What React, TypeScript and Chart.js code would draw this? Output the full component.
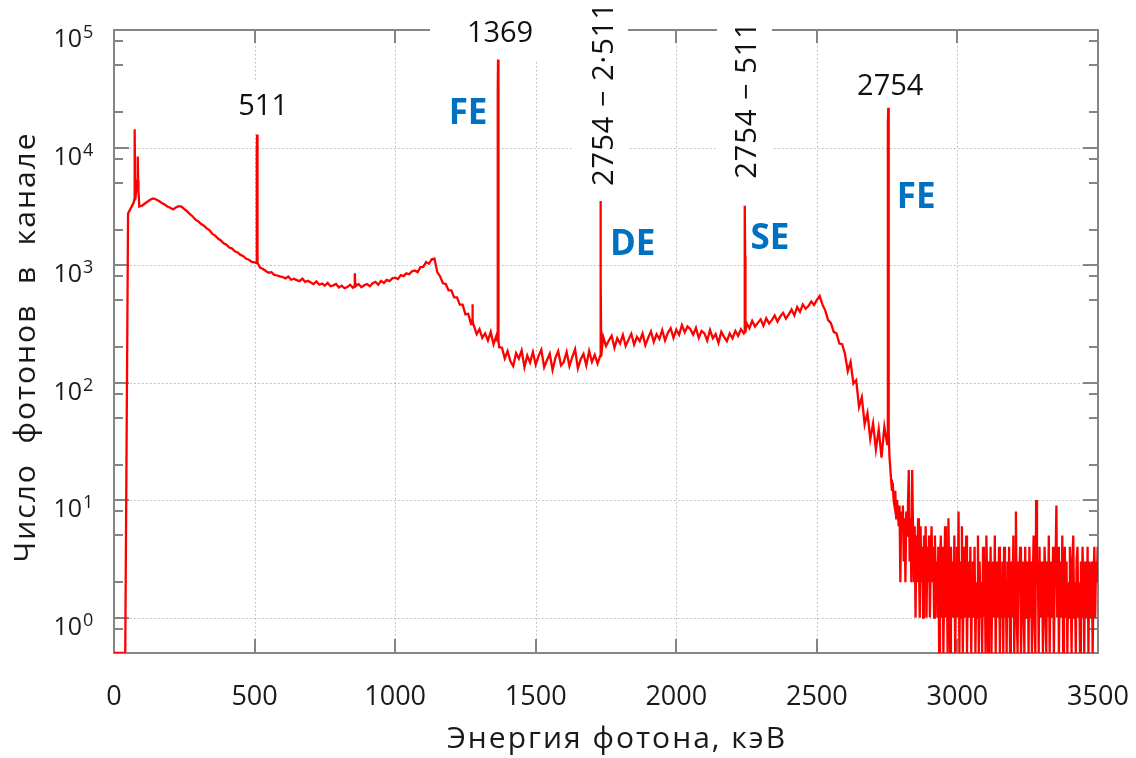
import React, { useEffect, useRef } from "react";
import { Chart, registerables } from "chart.js";

Chart.register(...registerables);

const FONT = "'Open Sans', 'DejaVu Sans', sans-serif";

// ---- Data ----
// Continuum (counts per channel) from 0 keV, 10 keV step
const contStart = 0;
const contStep = 10;
const continuum = [
  0, 0, 0, 0, 0, 2750, 3050, 3400, 4700, 3150,
  3200, 3340, 3470, 3610, 3690, 3610, 3510, 3370, 3270, 3150,
  3070, 2970, 3090, 3170, 3140, 2990, 2870, 2710, 2590, 2430,
  2350, 2230, 2160, 2050, 1970, 1840, 1780, 1680, 1620, 1530,
  1490, 1410, 1380, 1310, 1280, 1220, 1190, 1130, 1110, 1065,
  1055, 1035, 950, 925, 890, 860, 870, 825, 815, 800,
  790, 770, 800, 750, 765, 745, 730, 765, 720, 735,
  712, 690, 725, 680, 695, 670, 705, 660, 672, 690,
  645, 668, 635, 650, 680, 640, 660, 690, 648, 672,
  690, 660, 700, 720, 680, 735, 705, 748, 730, 770,
  780, 760, 820, 805, 850, 835, 885, 900, 870, 960,
  965, 1060, 1025, 1120, 1135, 870, 800, 700, 690, 610,
  610, 530, 530, 460, 460, 380, 385, 315, 320, 258,
  285, 240, 262, 228, 270, 212, 250, 200, 198, 160,
  185, 152, 138, 178, 160, 188, 135, 170, 148, 182,
  142, 168, 190, 135, 155, 176, 128, 162, 185, 140,
  150, 182, 138, 165, 192, 132, 158, 175, 140, 186,
  150, 172, 145, 160, 245, 205, 228, 250, 198, 238,
  215, 255, 205, 232, 260, 210, 245, 225, 262, 208,
  240, 272, 222, 258, 235, 280, 228, 265, 290, 240,
  282, 255, 308, 268, 300, 285, 255, 292, 240, 275,
  262, 228, 280, 238, 258, 218, 270, 245, 225, 262,
  238, 275, 250, 285, 262, 320, 290, 335, 300, 322,
  345, 305, 352, 318, 340, 372, 330, 365, 392, 350,
  380, 418, 372, 440, 400, 462, 425, 448, 490, 458,
  505, 545, 460, 410, 340, 320, 270, 262, 215, 212,
  175, 125, 150, 98, 105, 62, 75, 44, 55, 33,
  45, 27, 40, 23, 42, 30,
];

// High-energy tail (counts per channel) from 2758 keV, 3 keV step
const tailStart = 2758;
const tailStep = 3;
const tail = [
  24, 19, 15, 12, 14, 10, 9, 12, 7, 10, 8, 6, 9, 2, 8,
  6, 9, 3, 7, 2, 8, 5, 9, 18, 3, 7, 2, 18, 6, 2,
  6, 1, 5, 2, 7, 3, 1, 6, 2, 4, 1, 5, 2, 6, 1,
  4, 2, 5, 1, 3, 6, 2, 4, 1, 5, 2, 3, 1, 4, 0,
  3, 5, 1, 4, 0, 2, 6, 1, 3, 0, 7, 2, 0, 4, 1,
  3, 1, 5, 0, 2, 4, 1, 8, 0, 3, 1, 6, 0, 2, 4,
  1, 5, 0, 2, 3, 1, 4, 0, 2, 3, 1, 4, 0, 2, 1,
  5, 0, 3, 1, 2, 0, 4, 1, 3, 0, 5, 2, 0, 3, 1,
  4, 0, 2, 3, 1, 5, 0, 2, 3, 1, 4, 0, 2, 1, 3,
  0, 4, 1, 2, 0, 3, 1, 4, 0, 2, 3, 1, 5, 0, 2,
  8, 1, 0, 3, 2, 4, 0, 1, 3, 2, 0, 4, 1, 2, 3,
  0, 4, 1, 3, 0, 2, 5, 1, 0, 10, 2, 3, 0, 4, 1,
  2, 3, 0, 1, 4, 2, 0, 3, 1, 5, 0, 2, 3, 1, 4,
  0, 2, 3, 9, 1, 4, 0, 2, 3, 1, 5, 0, 2, 4, 1,
  3, 0, 2, 1, 4, 2, 0, 3, 5, 1, 2, 0, 3, 4, 1,
  2, 0, 3, 1, 4, 2, 0, 3, 2, 1, 4, 0, 3, 2, 1,
  3, 0, 2, 4, 1, 3, 2, 4,
];

// Narrow peaks
const peakEnergy = [74, 85, 509, 857, 1275, 1366, 1731, 2244, 2754];
const peakApex = [14300, 8400, 12900, 850, 465, 56000, 3510, 3190, 21800];
const peakShoulder = [5000, 5200, 9000, 700, 340, 31000, 810, 1200, 16000];
const peakBase = [3600, 4300, 1040, 660, 320, 226, 168, 268, 38];

// Axis ticks
const xTicks = [0, 500, 1000, 1500, 2000, 2500, 3000, 3500];
const yDecades = [0, 1, 2, 3, 4, 5];
const yMinorMult = [2, 5, 8];

// Text annotations: anchored to peaks (index into peak arrays)
const annotations = [
  { text: "511", peak: 2, dx: 6, dy: -28, kind: "num" },
  { text: "1369", peak: 5, dx: 2, dy: -26, kind: "num" },
  { text: "2754", peak: 8, dx: 2, dy: -21, kind: "num" },
  { text: "2754 \u2212 2\u00b7511", peak: 6, dx: 12, dy: -15, kind: "vnum" },
  { text: "2754 \u2212 511", peak: 7, dx: 11, dy: -27, kind: "vnum" },
  { text: "FE", peak: 5, dx: -30, dy: 54, kind: "tag" },
  { text: "DE", peak: 6, dx: 32, dy: 44, kind: "tag" },
  { text: "SE", peak: 7, dx: 25, dy: 33, kind: "tag" },
  { text: "FE", peak: 8, dx: 28, dy: 90, kind: "tag" },
];

// White label backgrounds (pixel rects) that mask frame/grid behind labels
const maskBoxes = [
  [430, 0, 143, 60],
  [573, 0, 55, 195],
  [717, 0, 55, 190],
  [236, 80, 54, 52],
];

function buildPoints() {
  const pts: { x: number; y: number }[] = [];
  continuum.forEach((v, i) => {
    const x = contStart + i * contStep;
    if (peakEnergy.some((e) => Math.abs(e - x) <= 2)) return;
    pts.push({ x, y: v });
  });
  peakEnergy.forEach((e, k) => {
    pts.push(
      { x: e - 2, y: peakBase[k] },
      { x: e - 1, y: peakShoulder[k] },
      { x: e, y: peakApex[k] },
      { x: e + 1, y: peakShoulder[k] },
      { x: e + 2, y: peakBase[k] }
    );
  });
  tail.forEach((v, i) => pts.push({ x: tailStart + i * tailStep, y: v }));
  pts.sort((a, b) => a.x - b.x);
  return pts;
}

const framePlugin = {
  id: "frameGrid",
  beforeDatasetsDraw(chart: any) {
    const { ctx, chartArea: a, scales } = chart;
    const xs = scales.x;
    const ys = scales.y;
    ctx.save();
    // dotted grid
    ctx.strokeStyle = "#b5b5b5";
    ctx.lineWidth = 1;
    ctx.setLineDash([1.5, 2.5]);
    xTicks.forEach((v) => {
      if (v <= xs.min || v >= xs.max) return;
      const px = Math.round(xs.getPixelForValue(v)) + 0.5;
      ctx.beginPath();
      ctx.moveTo(px, a.top);
      ctx.lineTo(px, a.bottom);
      ctx.stroke();
    });
    yDecades.forEach((d) => {
      const py = Math.round(ys.getPixelForValue(Math.pow(10, d))) + 0.5;
      if (py <= a.top + 2 || py >= a.bottom - 2) return;
      ctx.beginPath();
      ctx.moveTo(a.left, py);
      ctx.lineTo(a.right, py);
      ctx.stroke();
    });
    ctx.setLineDash([]);
    // frame
    ctx.strokeStyle = "#858585";
    ctx.lineWidth = 2;
    ctx.strokeRect(a.left, a.top, a.right - a.left, a.bottom - a.top);
    // ticks
    ctx.beginPath();
    xTicks.forEach((v) => {
      if (v <= xs.min || v >= xs.max) return;
      const px = Math.round(xs.getPixelForValue(v));
      ctx.moveTo(px, a.bottom);
      ctx.lineTo(px, a.bottom - 14);
      ctx.moveTo(px, a.top);
      ctx.lineTo(px, a.top + 13);
    });
    const yTick = (val: number, len: number) => {
      if (val < ys.min || val > ys.max) return;
      const py = Math.round(ys.getPixelForValue(val));
      if (py <= a.top + 1 || py >= a.bottom - 1) return;
      ctx.moveTo(a.left, py);
      ctx.lineTo(a.left + len, py);
      ctx.moveTo(a.right, py);
      ctx.lineTo(a.right - len, py);
    };
    [-1, ...yDecades].forEach((d) => {
      const base = Math.pow(10, d);
      yTick(base, 15);
      yMinorMult.forEach((m) => yTick(base * m, 9));
    });
    ctx.stroke();
    // masks behind labels
    ctx.fillStyle = "#ffffff";
    maskBoxes.forEach(([x, y, w, h]) => ctx.fillRect(x, y, w, h));
    ctx.restore();
  },
  afterDatasetsDraw(chart: any) {
    const { ctx, chartArea: a, scales } = chart;
    const xs = scales.x;
    const ys = scales.y;
    ctx.save();
    // y tick labels 10^n
    ctx.fillStyle = "#1a1a1a";
    yDecades.forEach((d) => {
      const py = ys.getPixelForValue(Math.pow(10, d));
      ctx.font = `25px ${FONT}`;
      ctx.textAlign = "right";
      ctx.textBaseline = "alphabetic";
      ctx.fillText("10", a.left - 32, py + 17);
      ctx.font = `18px ${FONT}`;
      ctx.textAlign = "left";
      ctx.fillText(String(d), a.left - 31, py + 8);
    });
    // axis titles
    ctx.font = `30px ${FONT}`;
    ctx.textAlign = "center";
    ctx.textBaseline = "alphabetic";
    (ctx as any).letterSpacing = "2px";
    ctx.fillText("Энергия фотона, кэВ", 617, 748);
    ctx.save();
    ctx.translate(35, 347);
    ctx.rotate(-Math.PI / 2);
    ctx.fillText("Число  фотонов  в  канале", 0, 0);
    ctx.restore();
    (ctx as any).letterSpacing = "0px";
    // annotations
    annotations.forEach((an) => {
      const px = xs.getPixelForValue(peakEnergy[an.peak]) + an.dx;
      const py = ys.getPixelForValue(peakApex[an.peak]) + an.dy;
      if (an.kind === "num") {
        ctx.font = `29px ${FONT}`;
        ctx.fillStyle = "#111111";
        ctx.textAlign = "center";
        ctx.textBaseline = "middle";
        ctx.fillText(an.text, px, py);
      } else if (an.kind === "vnum") {
        ctx.save();
        ctx.font = `29px ${FONT}`;
        (ctx as any).letterSpacing = "1px";
        ctx.fillStyle = "#111111";
        ctx.translate(px, py);
        ctx.rotate(-Math.PI / 2);
        ctx.textAlign = "left";
        ctx.textBaseline = "alphabetic";
        ctx.fillText(an.text, 0, 0);
        (ctx as any).letterSpacing = "0px";
        ctx.restore();
      } else {
        ctx.font = `bold 35px ${FONT}`;
        ctx.fillStyle = "#0070c0";
        ctx.textAlign = "center";
        ctx.textBaseline = "middle";
        ctx.fillText(an.text, px, py);
      }
    });
    ctx.restore();
  },
};

export default function App() {
  const ref = useRef<HTMLCanvasElement | null>(null);
  useEffect(() => {
    if (!ref.current) return;
    const chart = new Chart(ref.current, {
      type: "line",
      data: {
        datasets: [
          {
            data: buildPoints(),
            parsing: false,
            borderColor: "#ff0000",
            borderWidth: 2.3,
            pointRadius: 0,
            tension: 0,
            fill: false,
          } as any,
        ],
      },
      options: {
        animation: false,
        responsive: false,
        devicePixelRatio: 1,
        layout: { padding: { left: 0, right: 38, top: 30, bottom: 0 } },
        plugins: { legend: { display: false }, tooltip: { enabled: false } },
        scales: {
          x: {
            type: "linear",
            min: 0,
            max: 3500,
            grid: { display: false, drawTicks: false },
            border: { display: false },
            afterBuildTicks: (s: any) => {
              s.ticks = xTicks.map((v) => ({ value: v }));
            },
            ticks: {
              callback: (v: any) => String(v),
              font: { size: 27, family: FONT },
              color: "#1a1a1a",
              padding: 28,
              maxRotation: 0,
              autoSkip: false,
            },
            afterFit: (s: any) => {
              s.height = 105;
              s.paddingLeft = 0;
              s.paddingRight = 0;
            },
          },
          y: {
            type: "logarithmic",
            min: 0.5,
            max: 100000,
            grid: { display: false, drawTicks: false },
            border: { display: false },
            ticks: { display: false },
            afterFit: (s: any) => {
              s.width = 114;
              s.paddingTop = 0;
              s.paddingBottom = 0;
            },
          },
        },
      } as any,
      plugins: [framePlugin],
    });
    return () => chart.destroy();
  }, []);
  return (
    <div style={{ position: "fixed", left: 0, top: 0, width: 1136, height: 758, background: "#fff" }}>
      <canvas ref={ref} width={1136} height={758} style={{ width: 1136, height: 758 }} />
    </div>
  );
}
